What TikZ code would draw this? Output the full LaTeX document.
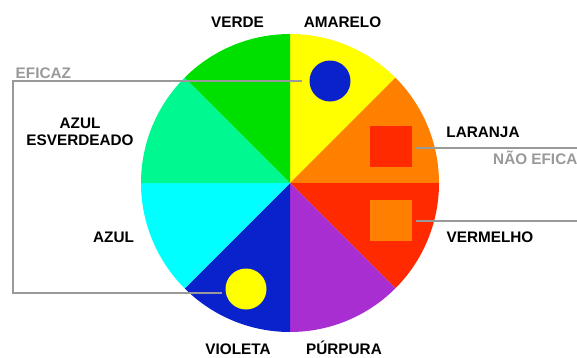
\documentclass[tikz,border=0pt]{standalone}
\usepackage{fontspec}
\setmainfont{Liberation Sans}
\definecolor{cYellow}{HTML}{FFFF00}
\definecolor{cOrange}{HTML}{FF8000}
\definecolor{cRed}{HTML}{FF2A00}
\definecolor{cPurple}{HTML}{A82ED2}
\definecolor{cBlue}{HTML}{0A22CC}
\definecolor{cCyan}{HTML}{00FFFF}
\definecolor{cAqua}{HTML}{00F890}
\definecolor{cGreen}{HTML}{00E000}
\definecolor{cGray}{HTML}{999999}
\begin{document}
\begin{tikzpicture}[x=1pt,y=1pt,
  lbl/.style={font=\fontsize{15.3}{16}\selectfont\bfseries, text=black, inner sep=0pt, anchor=base},
  glbl/.style={lbl, text=cGray},
  guide/.style={draw=cGray, line width=2pt},
  dot/.style={circle, inner sep=0pt, minimum size=41pt},
  sq/.style={rectangle, inner sep=0pt, minimum width=42pt, minimum height=41pt}]
\useasboundingbox (0,0) rectangle (577,357);
\coordinate (C) at (290,174);
\foreach \a/\c in {45/cYellow,0/cOrange,-45/cRed,-90/cPurple,-135/cBlue,-180/cCyan,135/cAqua,90/cGreen}{
  \fill[\c] (C) -- ++(\a:149) arc[start angle=\a, end angle=\a+45, radius=149] -- cycle;
}
% markers
\node[dot, fill=cBlue] (bluedot) at (330,276) {};
\node[dot, fill=cYellow] (yellowdot) at (246,68) {};
\node[sq, fill=cRed] (redsq) at (391,211) {};
\node[sq, fill=cOrange] (orangesq) at (391,136.5) {};
% guide lines
\coordinate (effL) at (13,276);
\coordinate (effB) at (13,64);
\coordinate (effE) at (222,64);
\draw[guide] ([xshift=-7pt]bluedot.west) -- (effL) -- (effB) -- (effE);
\coordinate (neS1) at (416,209);
\coordinate (neR1) at (577,209);
\coordinate (neR2) at (577,136.5);
\draw[guide] (neS1) -- (neR1);
\draw[guide] ([xshift=4pt]orangesq.east) -- (neR2);
% labels
\node[glbl, anchor=base west] (eficaz) at (15.5,279) {EFICAZ};
\node[glbl, anchor=base west] (naoeficaz) at (493,193) {NÃO EFICAZ};
\node[lbl] (verde) at (237.5,330) {VERDE};
\node[lbl] (amarelo) at (342.5,330) {AMARELO};
\node[lbl] (laranja) at (483,220) {LARANJA};
\node[lbl] (vermelho) at (490,115) {VERMELHO};
\node[lbl] (purpura) at (344,3) {PÚRPURA};
\node[lbl] (violeta) at (238,3) {VIOLETA};
\node[lbl] (azul) at (113.5,115) {AZUL};
\node[lbl] (azulesv1) at (80,229) {AZUL};
\node[lbl] (azulesv2) at (80,212) {ESVERDEADO};
\end{tikzpicture}
\end{document}
